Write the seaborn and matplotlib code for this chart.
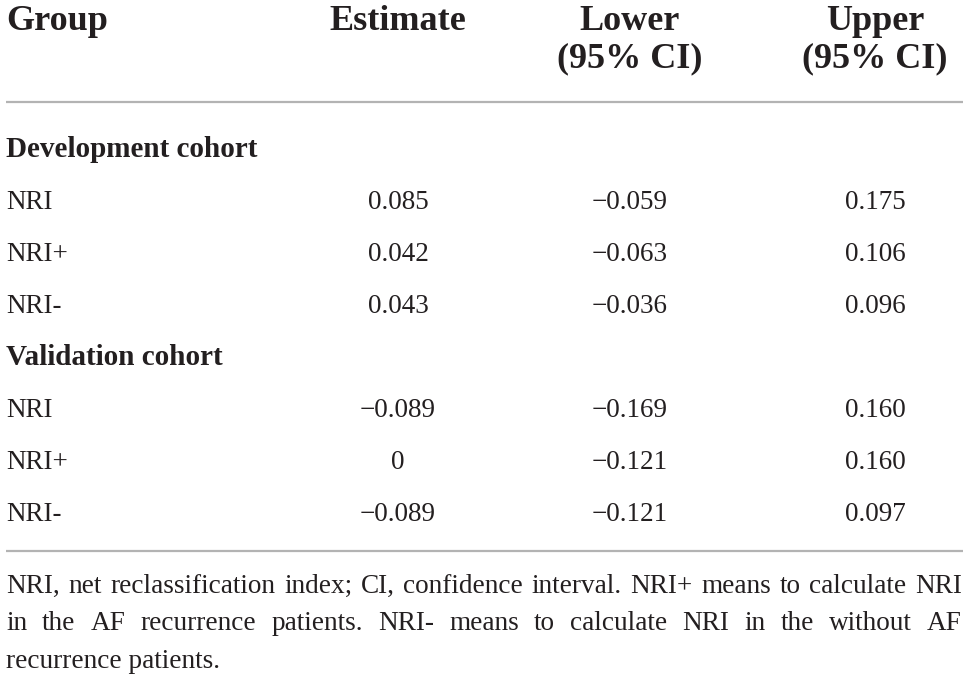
import matplotlib
matplotlib.use("Agg")
import matplotlib.pyplot as plt
import seaborn as sns
import pandas as pd

# ---------------- data ----------------
headers = ["Group", "Estimate", "Lower\n(95% CI)", "Upper\n(95% CI)"]
sections = ["Development cohort", "Validation cohort"]
row_labels = ["NRI", "NRI+", "NRI-"]
dev_estimate = ["0.085", "0.042", "0.043"]
dev_lower = ["\u22120.059", "\u22120.063", "\u22120.036"]
dev_upper = ["0.175", "0.106", "0.096"]
val_estimate = ["\u22120.089", "0", "\u22120.089"]
val_lower = ["\u22120.169", "\u22120.121", "\u22120.121"]
val_upper = ["0.160", "0.160", "0.097"]
footnote_lines = [
    "NRI, net reclassification index; CI, confidence interval. NRI+ means to calculate NRI",
    "in the AF recurrence patients. NRI- means to calculate NRI in the without AF",
    "recurrence patients.",
]

df = pd.DataFrame({
    "section": [sections[0]] * 3 + [sections[1]] * 3,
    "group": row_labels * 2,
    "estimate": dev_estimate + val_estimate,
    "lower": dev_lower + val_lower,
    "upper": dev_upper + val_upper,
})

# ---------------- style ----------------
sns.set_theme(style="white")
plt.rcParams["font.family"] = ["Liberation Serif", "DejaVu Serif"]
TXT = "#231f20"
RULE = "#b3b3b3"

W, H = 968, 679
fig = plt.figure(figsize=(W / 100, H / 100), dpi=100)
ax = fig.add_axes([0, 0, 1, 1])
ax.set_xlim(0, W)
ax.set_ylim(H, 0)
ax.axis("off")

LEFT, RIGHT = 6, 962
col_x = [LEFT, 398, 630, 875]
head_fs, body_fs, sec_fs, foot_fs = 26, 19.5, 21, 19.6

# header
for i, h in enumerate(headers):
    lines = h.split("\n")
    for j, ln in enumerate(lines):
        ax.text(col_x[i], 30 + j * 37, ln, ha="left" if i == 0 else "center",
                va="baseline", fontsize=head_fs, fontweight="bold", color=TXT)

ax.plot([LEFT, RIGHT + 1], [102, 102], color=RULE, lw=1.6, solid_capstyle="butt")

# body
y = 157
step = 52
for sec in sections:
    ax.text(LEFT, y, sec, ha="left", va="baseline", fontsize=sec_fs,
            fontweight="bold", color=TXT)
    y += step
    sub = df[df["section"] == sec]
    for _, r in sub.iterrows():
        ax.text(col_x[0], y, r["group"], ha="left", va="baseline",
                fontsize=body_fs, color=TXT)
        for k, c in enumerate(["estimate", "lower", "upper"]):
            ax.text(col_x[k + 1], y, r[c], ha="center", va="baseline",
                    fontsize=body_fs, color=TXT)
        y += step

ax.plot([LEFT, RIGHT + 1], [551, 551], color=RULE, lw=1.6, solid_capstyle="butt")

# footnote (justified)
renderer = fig.canvas.get_renderer()
foot_y = [593, 630.5, 668]
for li, (line, fy) in enumerate(zip(footnote_lines, foot_y)):
    if li == len(footnote_lines) - 1:
        ax.text(LEFT, fy, line, ha="left", va="baseline", fontsize=foot_fs, color=TXT)
        continue
    words = line.split(" ")
    objs = [ax.text(0, fy, w, ha="left", va="baseline", fontsize=foot_fs, color=TXT)
            for w in words]
    widths = [o.get_window_extent(renderer).width for o in objs]
    gap = (RIGHT - LEFT - sum(widths)) / (len(words) - 1)
    x = LEFT
    for o, w in zip(objs, widths):
        o.set_x(x)
        x += w + gap

fig.savefig("out.png", dpi=100, facecolor="white")
